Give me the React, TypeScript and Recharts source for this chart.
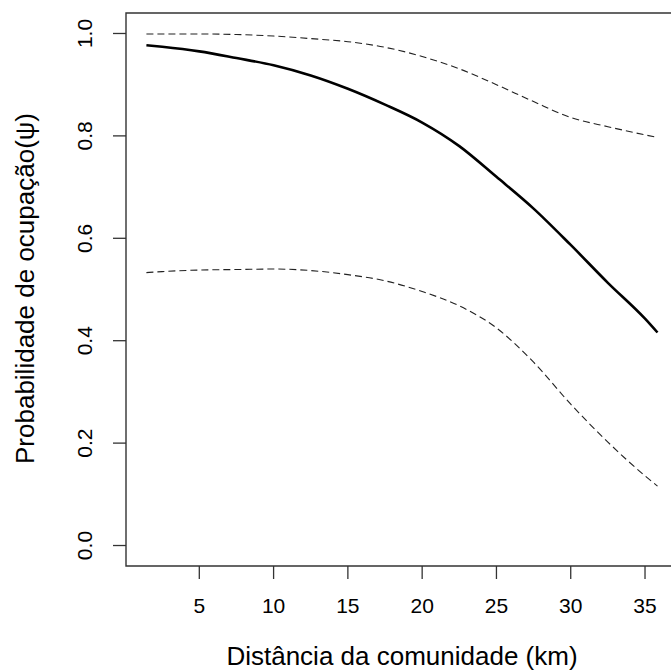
import React from "react";
import { LineChart, Line, XAxis, YAxis, ReferenceArea } from "recharts";

// Distance from community (km)
const distances = [1.44, 2.5, 5, 7.5, 10, 12.5, 15, 17.5, 20, 22.5, 25, 27.5, 30, 32.5, 35, 35.84];
// Occupancy probability (psi) estimate and 95% bounds
const psiMean = [0.977, 0.974, 0.965, 0.952, 0.938, 0.918, 0.892, 0.861, 0.826, 0.78, 0.72, 0.658, 0.587, 0.513, 0.443, 0.416];
const psiUpper = [0.999, 0.999, 0.999, 0.998, 0.995, 0.99, 0.984, 0.973, 0.955, 0.931, 0.9, 0.867, 0.836, 0.818, 0.802, 0.797];
const psiLower = [0.533, 0.535, 0.538, 0.539, 0.54, 0.537, 0.529, 0.517, 0.496, 0.468, 0.425, 0.358, 0.276, 0.202, 0.136, 0.116];

const xTicks = [5, 10, 15, 20, 25, 30, 35];
const yTicks = [0, 0.2, 0.4, 0.6, 0.8, 1.0];

const xTitle = "Distância da comunidade (km)";
const yTitle = "Probabilidade de ocupação(ψ)";

const X_DOMAIN: [number, number] = [0.066, 37.22];
const Y_DOMAIN: [number, number] = [-0.04, 1.04];

const FONT = "'Liberation Sans', Arial, Helvetica, sans-serif";

const data = distances.map((d, i) => ({
  x: d,
  mean: psiMean[i],
  upper: psiUpper[i],
  lower: psiLower[i],
}));

const YTick = (props: any) => {
  const { x, y, payload } = props;
  return (
    <text
      x={x}
      y={y}
      transform={`rotate(-90 ${x} ${y})`}
      textAnchor="middle"
      fontSize={21}
      fontFamily={FONT}
      fill="#000"
    >
      {Number(payload.value).toFixed(1)}
    </text>
  );
};

const XTitle = (props: any) => {
  const vb = props.viewBox || { x: 126, y: 566, width: 552, height: 104 };
  return (
    <text
      x={vb.x + vb.width / 2}
      y={vb.y + 99}
      textAnchor="middle"
      fontSize={26}
      fontFamily={FONT}
      fill="#000"
    >
      {xTitle}
    </text>
  );
};

const YTitle = (props: any) => {
  const vb = props.viewBox || { x: 0, y: 13, width: 126, height: 553 };
  const cx = vb.x + 34;
  const cy = vb.y + vb.height / 2 - 1;
  return (
    <text
      x={cx}
      y={cy}
      transform={`rotate(-90 ${cx} ${cy})`}
      textAnchor="middle"
      fontSize={26}
      fontFamily={FONT}
      fill="#000"
    >
      {yTitle}
    </text>
  );
};

export default function App() {
  return (
    <div
      style={{
        position: "absolute",
        left: 0,
        top: 0,
        width: 671,
        height: 670,
        overflow: "hidden",
        background: "#fff",
      }}
    >
      <LineChart
        width={690}
        height={670}
        data={data}
        margin={{ top: 13, right: 12, left: 0, bottom: 0 }}
      >
        <XAxis
          dataKey="x"
          type="number"
          domain={X_DOMAIN}
          allowDataOverflow
          ticks={xTicks}
          interval={0}
          height={104}
          axisLine={false}
          tickLine={{ stroke: "#333", strokeWidth: 1.3 }}
          tickSize={13}
          tickMargin={19}
          tick={{ fontSize: 21, fill: "#000", fontFamily: FONT }}
          label={<XTitle />}
        />
        <YAxis
          type="number"
          domain={Y_DOMAIN}
          allowDataOverflow
          ticks={yTicks}
          interval={0}
          width={126}
          axisLine={false}
          tickLine={{ stroke: "#333", strokeWidth: 1.3 }}
          tickSize={13}
          tickMargin={21}
          tick={<YTick />}
          label={<YTitle />}
        />
        <ReferenceArea
          x1={X_DOMAIN[0]}
          x2={X_DOMAIN[1]}
          y1={Y_DOMAIN[0]}
          y2={Y_DOMAIN[1]}
          fill="none"
          fillOpacity={0}
          stroke="#333"
          strokeWidth={1.4}
          ifOverflow="visible"
        />
        <Line
          dataKey="upper"
          type="monotone"
          stroke="#222"
          strokeWidth={1.1}
          strokeDasharray="7 4"
          dot={false}
          activeDot={false}
          isAnimationActive={false}
        />
        <Line
          dataKey="lower"
          type="monotone"
          stroke="#222"
          strokeWidth={1.1}
          strokeDasharray="7 4"
          dot={false}
          activeDot={false}
          isAnimationActive={false}
        />
        <Line
          dataKey="mean"
          type="monotone"
          stroke="#000"
          strokeWidth={2.6}
          dot={false}
          activeDot={false}
          isAnimationActive={false}
        />
      </LineChart>
    </div>
  );
}
